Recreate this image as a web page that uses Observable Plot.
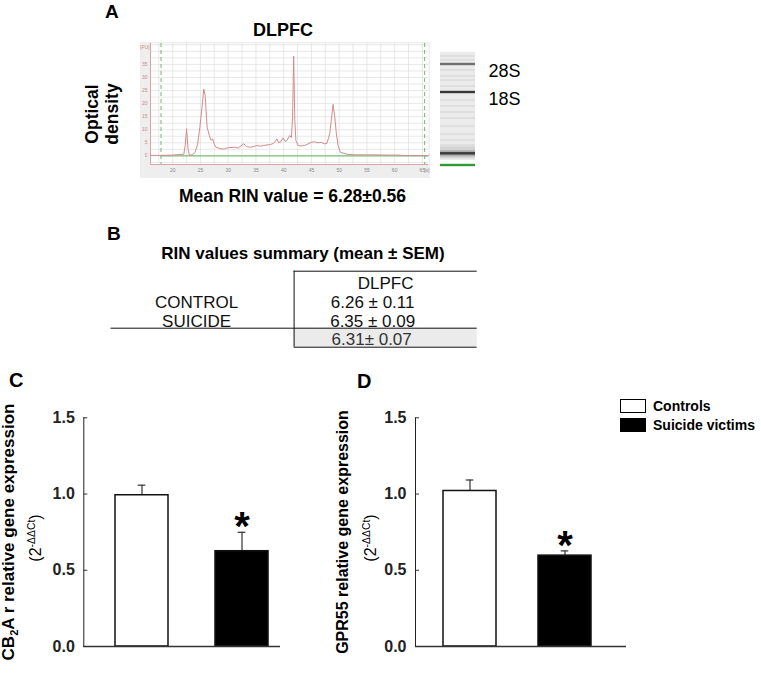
<!DOCTYPE html>
<html><head><meta charset="utf-8">
<script src="https://cdn.jsdelivr.net/npm/d3@7"></script>
<script src="https://cdn.jsdelivr.net/npm/@observablehq/plot@0.6"></script>
<style>
body{margin:0;background:#fff;}
#fig{position:relative;width:761px;height:686px;overflow:hidden;background:#fff;font-family:"Liberation Sans",Arial,sans-serif;color:#000;}
#fig .t{position:absolute;white-space:nowrap;line-height:1;}
#fig > svg{position:absolute;}
.sw{position:absolute;box-sizing:border-box;border:1.5px solid #000;}
</style></head><body><div id="fig"></div>
<script>
// ---------------- DATA ----------------
// Panel A: electropherogram (time [s], fluorescence [FU])
const traceTime = [16,18,20,21,22.0,22.25,22.5,22.75,23.0,23.5,24.0,24.5,24.9,25.3,25.6,25.85,26.2,26.6,26.9,27.2,27.5,27.8,28.7,29.3,29.9,30.5,31.1,31.8,32.3,32.8,33.4,34.0,34.6,35.2,35.8,36.4,37.0,37.6,38.2,38.8,39.1,39.4,39.9,40.3,40.6,41.1,41.4,41.6,41.8,42.0,42.2,42.6,43.2,43.8,44.4,45.0,45.6,46.2,46.8,47.3,47.8,48.3,48.6,48.9,49.2,49.5,49.8,50.2,51.4,53,56,59,60.5,62,66.1];
const traceFU   = [0.2,0.2,0.3,0.5,0.6,4,10.4,3,0.3,0.4,1.2,4.5,11,19,25.6,23,11,7.8,6,6.5,4.5,3.3,2.7,2.6,3.1,3.2,3.3,3.0,3.8,4.6,3.5,3.3,3.6,4.0,3.7,4.0,4.2,4.3,4.8,6.5,5.0,5.2,6.9,5.5,5.9,7.8,7.0,15,38.2,14,5.9,4.0,3.8,4.0,4.6,5.2,5.4,5.0,5.2,4.6,4.8,8.5,14,19.7,15,8.5,4,1.4,0.6,0.4,0.4,0.3,0.3,0.1,0.1];
const elecXTicks = [20,25,30,35,40,45,50,55,60,65];
const elecYTicks = [0,5,10,15,20,25,30,35];
const elecMarkers = [17.9, 65.4];
const elecXDomain = [16, 66.1];
const elecYDomain = [-3.3, 43];
// gel lane (migration units, top to bottom)
const gelLanes = ["DLPFC"];
const gelBandNames = ["28S","18S","marker","lower"];
const gelBandPos = [14, 42, 103.3, 115];
const gelFaintPos = [6,10,20,26,30,36,50,56,62,68,76,84,90,95];
const meanRIN = "6.28±0.56";
// Panel B: table
const rinRegion = "DLPFC";
const rinGroups = ["CONTROL","SUICIDE"];
const rinValues = ["6.26 ± 0.11","6.35 ± 0.09"];
const rinTotal = "6.31± 0.07";
// Panels C, D
const groups = ["Controls","Suicide victims"];
const cb2Mean = [0.992, 0.625];
const cb2Sem  = [0.066, 0.124];
const gprMean = [1.02, 0.596];
const gprSem  = [0.072, 0.031];
const significant = [false, true];
const yTicks = [0, 0.5, 1.0, 1.5];
const groupFill = ["white", "black"];

// ---------------- HELPERS ----------------
const fig = document.getElementById("fig");
const FONT = "Liberation Sans, Arial, sans-serif";
function place(svg, left, top){ svg.style.position="absolute"; svg.style.left=left+"px"; svg.style.top=top+"px"; fig.appendChild(svg); }
function label(html, x, baseline, size, weight="bold", anchor="start"){
  const d=document.createElement("div"); d.className="t"; d.innerHTML=html;
  d.style.fontSize=size+"px"; d.style.fontWeight=weight;
  d.style.top=(baseline-0.8465*size)+"px"; d.style.left=x+"px";
  if(anchor==="middle") d.style.transform="translateX(-50%)";
  fig.appendChild(d); return d;
}
function rotLabel(html, cx, cy, size, weight="bold"){
  const d=document.createElement("div"); d.className="t"; d.innerHTML=html;
  d.style.fontSize=size+"px"; d.style.fontWeight=weight;
  d.style.left=cx+"px"; d.style.top=cy+"px";
  d.style.transform="translate(-50%,-50%) rotate(-90deg)";
  fig.appendChild(d); return d;
}

// ---------------- PANEL A ----------------
label("A", 105, 18.5, 19);
label(rinRegion, 283, 36, 18, "bold", "middle");
rotLabel("Optical", 93, 114, 17.5);
rotLabel("density", 113, 114, 17.5);
label("Mean RIN value = " + meanRIN, 292.5, 203, 17.5, "bold", "middle");

const trace = traceTime.map((t,i)=>({t, fu: traceFU[i]}));
const gridX = d3.range(17.5, 66, 2.5);
const gridY = d3.range(-2.5, 43, 2.5);
const plotA = Plot.plot({
  width: 290, height: 136, marginLeft: 10, marginRight: 2, marginTop: 1, marginBottom: 14,
  x: {domain: elecXDomain, axis: null},
  y: {domain: elecYDomain, axis: null},
  style: `background:#eeeeee;overflow:visible;font-family:${FONT};`,
  marks: [
    Plot.frame({fill: "white", stroke: "none"}),
    Plot.ruleX(gridX, {stroke: "#dedede", strokeWidth: 0.7}),
    Plot.ruleY(gridY, {stroke: "#dedede", strokeWidth: 0.7}),
    Plot.ruleX([elecXDomain[0]], {stroke: "#d7a3a3", strokeWidth: 1}),
    Plot.ruleY([elecYDomain[0]], {stroke: "#d7a3a3", strokeWidth: 1}),
    Plot.ruleY([0], {x1: elecMarkers[0], x2: elecXDomain[1], stroke: "#5cb85c", strokeWidth: 1}),
    Plot.ruleX(elecMarkers, {stroke: "#6aaa6a", strokeWidth: 0.9, strokeDasharray: "4,3"}),
    Plot.line(trace, {x: "t", y: "fu", stroke: "#d58a8e", strokeWidth: 1}),
    Plot.text(elecXTicks, {x: d=>d, text: d=>String(d), frameAnchor: "bottom", dy: 7, fontSize: 5, fill: "#8a8a8a"}),
    Plot.text(["[s]"], {text: d=>d, frameAnchor: "bottom-right", dy: 7, dx: 1, fontSize: 5, fill: "#8a8a8a"}),
    Plot.text(elecYTicks, {y: d=>d, text: d=>String(d), frameAnchor: "left", dx: -3, textAnchor: "end", fontSize: 5, fill: "#d08585"}),
    Plot.text(["[FU]"], {text: d=>d, frameAnchor: "top-left", dx: -1, dy: 2, textAnchor: "end", fontSize: 5, fill: "#d08585"})
  ]
});
place(plotA, 140, 42);

// gel lane
const bands = gelBandPos.map((p,i)=>({p, name: gelBandNames[i]}));
const plotGel = Plot.plot({
  width: 110, height: 140, marginLeft: 0, marginRight: 0, marginTop: 0, marginBottom: 0,
  x: {type: "band", domain: gelLanes, range: [10, 45], padding: 0, axis: null},
  y: {domain: [-10, 130], reverse: true, axis: null},
  color: {type: "identity"},
  style: `background:transparent;overflow:visible;font-family:${FONT};`,
  marks: [
    Plot.barY(gelLanes, {x: d=>d, y1: 2, y2: 110, fill: "#ebebeb"}),
    Plot.barY(gelFaintPos, {x: ()=>gelLanes[0], y1: d=>d-0.7, y2: d=>d+0.7, fill: "#dadada"}),
    Plot.barY([gelBandPos[2]], {x: ()=>gelLanes[0], y1: d=>d-7, y2: d=>d+5, fill: "#d4d4d4"}),
    Plot.barY([gelBandPos[2]], {x: ()=>gelLanes[0], y1: d=>d-3, y2: d=>d+3, fill: "#ababab"}),
    Plot.barY(bands, {x: ()=>gelLanes[0], y1: d=>d.p-1.2, y2: d=>d.p+1.2,
      fill: d => d.name==="lower" ? "#2f9a36" : d.name==="28S" ? "#707070" : "#383838"}),
    Plot.text(bands.slice(0,2), {x: ()=>gelLanes[0], y: "p", text: "name", dx: 30.5, dy: 7, textAnchor: "start", fontSize: 18, fill: "#000"})
  ]
});
place(plotGel, 430, 40);

// ---------------- PANEL B ----------------
label("B", 107, 240, 19);
label("RIN values summary (mean ± SEM)", 303, 259, 17, "bold", "middle");
const plotB = Plot.plot({
  width: 380, height: 90, marginLeft: 0, marginRight: 0, marginTop: 0, marginBottom: 0,
  x: {domain: [0, 2], range: [10.5, 376.7], axis: null},
  y: {domain: [0, 4], range: [10.7, 86.7], axis: null},
  style: `background:transparent;overflow:visible;font-family:${FONT};`,
  marks: [
    Plot.rect([rinTotal], {x1: 1, x2: 2, y1: 3, y2: 4, fill: "#ebebeb"}),
    Plot.ruleY([0, 4], {x1: 1, x2: 2, stroke: "#111", strokeWidth: 1}),
    Plot.ruleY([3], {x1: 0, x2: 2, stroke: "#111", strokeWidth: 1}),
    Plot.ruleX([1], {y1: 0, y2: 4, stroke: "#111", strokeWidth: 1}),
    Plot.text([rinRegion], {x: 1.5, y: 0.5, text: d=>d, dy: 3, fontSize: 17, fill: "#111"}),
    Plot.text(rinValues, {x: 1.5, y: (d,i)=>i+1.5, text: d=>d, dx: -13, dy: 3, fontSize: 17, fill: "#111"}),
    Plot.text(rinGroups, {x: 0.5, y: (d,i)=>i+1.5, text: d=>d, dx: -6, dy: 3, fontSize: 17, fill: "#111"}),
    Plot.text([rinTotal], {x: 1.5, y: 3.5, text: d=>d, dx: -14, dy: 2, fontSize: 17, fill: "#333"})
  ]
});
place(plotB, 100, 260);

// ---------------- PANELS C, D ----------------
function barPanel(means, sems, o){
  const data = groups.map((g,i)=>({group: g, mean: means[i], sem: sems[i], sig: significant[i]}));
  const fw = o.width - o.marginLeft - o.marginRight;
  const step = fw / (groups.length - o.pi + 2*o.po);
  const bw = step * (1 - o.pi);
  const cap = (bw - 8) / 2;
  return Plot.plot({
    width: o.width, height: 260, marginLeft: o.marginLeft, marginRight: o.marginRight, marginTop: 17.3, marginBottom: 14,
    style: `background:transparent;overflow:visible;font-family:${FONT};font-size:16px;font-weight:bold;color:#222;`,
    x: {type: "band", domain: groups, paddingInner: o.pi, paddingOuter: o.po, align: o.align, axis: null},
    y: {domain: [0, 1.5], ticks: yTicks, tickFormat: d3.format(".1f"), tickSize: 0, tickPadding: 9, line: true, label: null},
    color: {domain: groups, range: groupFill},
    marks: [
      Plot.tickY(yTicks, {y: d=>d, insetRight: fw - 4, stroke: "#333"}),
      Plot.ruleX(data, {x: "group", y1: "mean", y2: d=>d.mean+d.sem, stroke: "#333", strokeWidth: 1.2}),
      Plot.tickY(data, {x: "group", y: d=>d.mean+d.sem, insetLeft: cap, insetRight: cap, stroke: "#333", strokeWidth: 1.2}),
      Plot.barY(data, {x: "group", y: "mean", fill: "group", stroke: "#111", strokeWidth: 1.5}),
      Plot.ruleY([0], {stroke: "#333", strokeWidth: 1.5}),
      Plot.text(data.filter(d=>d.sig), {x: "group", y: d=>d.mean+d.sem, text: ()=>"*", fontSize: 40, fontWeight: "bold", lineAnchor: "middle", dy: -5, fill: "#000"})
    ]
  });
}
label("C", 9, 387, 20);
rotLabel('CB<sub style="font-size:0.65em;line-height:0">2</sub>A r relative gene expression', 8, 532, 17);
rotLabel('(2<sup style="font-size:0.65em;line-height:0">-ΔΔCt</sup>)', 36, 538, 16, "normal");
place(barPanel(cb2Mean, cb2Sem, {width: 290, marginLeft: 83.3, marginRight: 10, pi: 0.467, po: 0.217, align: 0.73}), 0, 400);

label("D", 357, 388, 20);
rotLabel("GPR55 relative gene expression", 343, 532, 16);
rotLabel('(2<sup style="font-size:0.65em;line-height:0">-ΔΔCt</sup>)', 371, 538, 16, "normal");
place(barPanel(gprMean, gprSem, {width: 300, marginLeft: 85, marginRight: 4, pi: 0.437, po: 0.329, align: 0.443}), 330, 400);

// legend
groups.forEach((g,i)=>{
  const s=document.createElement("div"); s.className="sw";
  s.style.left="620px"; s.style.top=(399.3+i*19)+"px"; s.style.width="26px"; s.style.height="13.4px";
  s.style.background=groupFill[i]; fig.appendChild(s);
  label(g, 653, 411+i*19, 14);
});
</script></body></html>
